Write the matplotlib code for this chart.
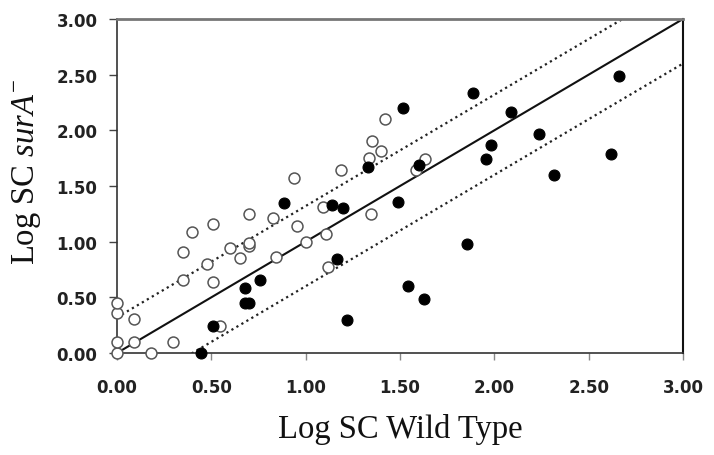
import matplotlib
matplotlib.use("Agg")
import matplotlib.pyplot as plt
import numpy as np

plt.rcParams["mathtext.fontset"] = "custom"
plt.rcParams["mathtext.rm"] = "Liberation Serif"
plt.rcParams["mathtext.it"] = "Liberation Serif:italic"

# Data: (Log SC Wild Type, Log SC surA-)
open_x = [0.00, 0.00, 0.00, 0.00, 0.09, 0.09, 0.178, 0.297, 0.351, 0.351, 0.40, 0.477,
          0.507, 0.51, 0.545, 0.60, 0.652, 0.70, 0.70, 0.70, 0.829, 0.841, 0.94, 0.952,
          1.00, 1.093, 1.108, 1.116, 1.189, 1.348, 1.335, 1.353, 1.40, 1.42, 1.583, 1.632]
open_y = [0.00, 0.096, 0.357, 0.446, 0.096, 0.305, 0.00, 0.096, 0.653, 0.905, 1.085, 0.80,
          0.635, 1.156, 0.24, 0.94, 0.851, 0.96, 0.985, 1.252, 1.213, 0.865, 1.568, 1.144,
          0.993, 1.309, 1.066, 0.776, 1.646, 1.252, 1.752, 1.905, 1.817, 2.10, 1.644, 1.743]

filled_x = [0.444, 0.51, 0.677, 0.677, 0.70, 0.759, 0.887, 1.141, 1.165, 1.196, 1.221, 1.331,
            1.49, 1.517, 1.542, 1.599, 1.629, 1.853, 1.888, 1.954, 1.982, 2.090, 2.236,
            2.316, 2.616, 2.659]
filled_y = [0.00, 0.24, 0.581, 0.446, 0.446, 0.656, 1.348, 1.33, 0.847, 1.30, 0.297, 1.673,
            1.36, 2.20, 0.605, 1.685, 0.482, 0.982, 2.336, 1.740, 1.869, 2.165, 1.965,
            1.597, 1.788, 2.489]

upper_offset = 0.32
lower_offset = -0.40
ticks = [0.0, 0.5, 1.0, 1.5, 2.0, 2.5, 3.0]
tick_labels = ["0.00", "0.50", "1.00", "1.50", "2.00", "2.50", "3.00"]

fig = plt.figure(figsize=(7.14, 4.56), dpi=100)
ax = fig.add_axes([117/714, 1-354/456, (683-117)/714, (354-20)/456])

xx = np.array([0.0, 3.0])
ax.plot(xx, xx, color="#111111", lw=1.5, zorder=2)
ax.plot(xx, xx + upper_offset, color="#222222", lw=1.6, ls=(0, (1, 1.6)), zorder=2)
ax.plot(xx, xx + lower_offset, color="#222222", lw=1.6, ls=(0, (1, 1.6)), zorder=2)

ax.scatter(open_x, open_y, s=62, facecolors="white", edgecolors="#555555",
           linewidths=1.1, zorder=3, clip_on=False)
ax.scatter(filled_x, filled_y, s=62, facecolors="black", edgecolors="black",
           linewidths=0.8, zorder=4, clip_on=False)

ax.set_xlim(0, 3)
ax.set_ylim(0, 3)
ax.set_xticks(ticks)
ax.set_yticks(ticks)
ax.set_xticklabels(tick_labels)
ax.set_yticklabels(tick_labels)
for lab in ax.get_xticklabels() + ax.get_yticklabels():
    lab.set_fontfamily("DejaVu Sans")
    lab.set_fontweight("bold")
    lab.set_fontsize(12)
    lab.set_color("#222222")
ax.tick_params(axis="y", direction="out", length=6, width=1, color="#444444", pad=8)
ax.tick_params(axis="x", direction="out", length=5, width=1, color="#888888", pad=13)

ax.spines["top"].set_color("#777777")
ax.spines["top"].set_linewidth(2)
ax.spines["left"].set_color("#333333")
ax.spines["left"].set_linewidth(1.2)
ax.spines["bottom"].set_color("#333333")
ax.spines["bottom"].set_linewidth(1.2)
ax.spines["right"].set_color("#111111")
ax.spines["right"].set_linewidth(1.5)

fig.text(400/714, 1-438/456, "Log SC Wild Type", ha="center", va="baseline",
         fontfamily="Liberation Serif", fontsize=23.5, color="#111111")
fig.text(27/714, 1-172/456, r"Log SC $\mathit{surA}^{-}$", ha="center", va="center",
         rotation=90, fontfamily="Liberation Serif", fontsize=23.5, color="#111111")

fig.savefig("out.png", dpi=100)
